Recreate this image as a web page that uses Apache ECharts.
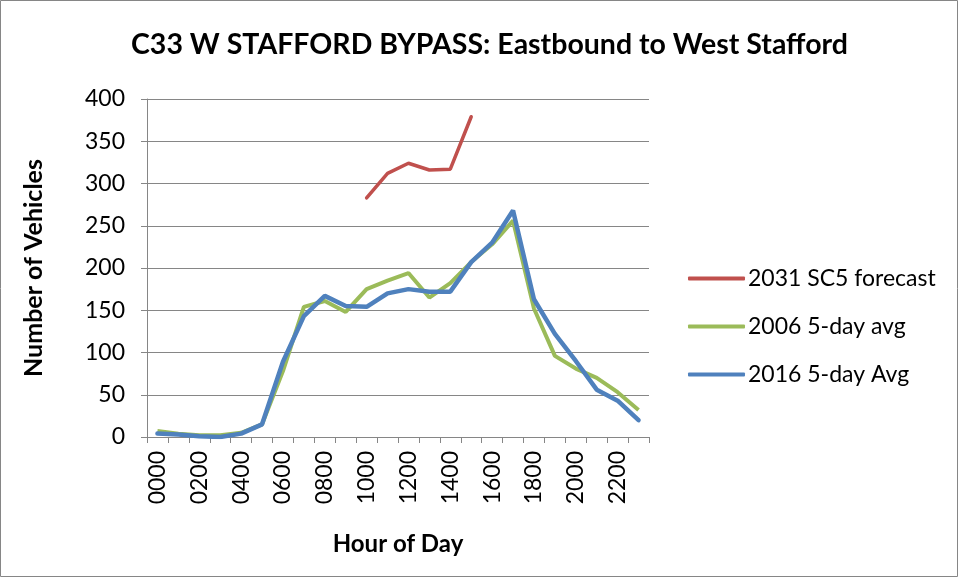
<!DOCTYPE html>
<html><head><meta charset="utf-8">
<script src="https://cdn.jsdelivr.net/npm/echarts@6/dist/echarts.min.js"></script>
<style>html,body{margin:0;padding:0;background:#fff}#c{width:959px;height:578px}</style>
</head><body><div id="c"></div>
<script>
const hours = ['0000','0100','0200','0300','0400','0500','0600','0700','0800','0900','1000','1100','1200','1300','1400','1500','1600','1700','1800','1900','2000','2100','2200','2300'];
const forecast2031 = [null,null,null,null,null,null,null,null,null,null,283,312,324,316,317,379,null,null,null,null,null,null,null,null];
const avg2006 = [7,4,2,2,5,15,78,154,161,148,175,185,194,165,182,207,228,256,152,96,81,70,53,32];
const avg2016 = [4,3,1,0,4,15,89,143,167,155,154,170,175,172,172,207,230,268,163,122,90,56,43,20];
const yTicks = {min:0, max:400, interval:50};

const font = 'Lato, "Open Sans", sans-serif';
const chart = echarts.init(document.getElementById('c'));
chart.setOption({
  animation:false,
  textStyle:{fontFamily:font},
  graphic:[{type:'rect',shape:{x:0.5,y:0.5,width:957,height:576},style:{fill:'none',stroke:'#868686',lineWidth:1}}],
  title:{text:'C33 W STAFFORD BYPASS: Eastbound to West Stafford',left:126,top:25,
    textStyle:{fontFamily:font,fontWeight:'bold',fontSize:28.5,color:'#000'}},
  legend:{orient:'vertical',left:683,top:262,itemGap:25,itemWidth:57,itemHeight:4,icon:'roundRect',
    textStyle:{fontFamily:font,fontSize:23,color:'#000',padding:[0,0,0,-2]},
    data:['2031 SC5 forecast','2006 5-day avg','2016 5-day Avg']},
  grid:{left:147,right:310,top:99,bottom:141},
  xAxis:{type:'category',data:hours,boundaryGap:true,
    name:'Hour of Day',nameLocation:'middle',nameGap:95,
    nameTextStyle:{fontFamily:font,fontWeight:'bold',fontSize:24,color:'#000'},
    axisLine:{lineStyle:{color:'#868686',width:1}},
    axisTick:{show:true,interval:0,length:6,lineStyle:{color:'#868686'}},
    axisLabel:{interval:1,rotate:90,fontSize:23,color:'#000',margin:14,fontFamily:font},
    splitLine:{show:false}},
  yAxis:{type:'value',min:yTicks.min,max:yTicks.max,interval:yTicks.interval,
    name:'Number of Vehicles',nameLocation:'middle',nameGap:101,
    nameTextStyle:{fontFamily:font,fontWeight:'bold',fontSize:25,color:'#000'},
    axisLine:{show:true,lineStyle:{color:'#868686',width:1}},
    axisTick:{show:true,length:6,lineStyle:{color:'#868686'}},
    axisLabel:{fontSize:23,color:'#000',margin:22,fontFamily:font},
    splitLine:{lineStyle:{color:'#868686',width:1}}},
  series:[
    {name:'2031 SC5 forecast',type:'line',data:forecast2031,showSymbol:false,symbol:'none',
      lineStyle:{color:'#C0504D',width:3.5,cap:'round'},itemStyle:{color:'#C0504D'}},
    {name:'2006 5-day avg',type:'line',data:avg2006,showSymbol:false,symbol:'none',
      lineStyle:{color:'#9BBB59',width:4},itemStyle:{color:'#9BBB59'}},
    {name:'2016 5-day Avg',type:'line',data:avg2016,showSymbol:false,symbol:'none',
      lineStyle:{color:'#4F81BD',width:4.5,cap:'round'},itemStyle:{color:'#4F81BD'}}
  ]
});
</script></body></html>
